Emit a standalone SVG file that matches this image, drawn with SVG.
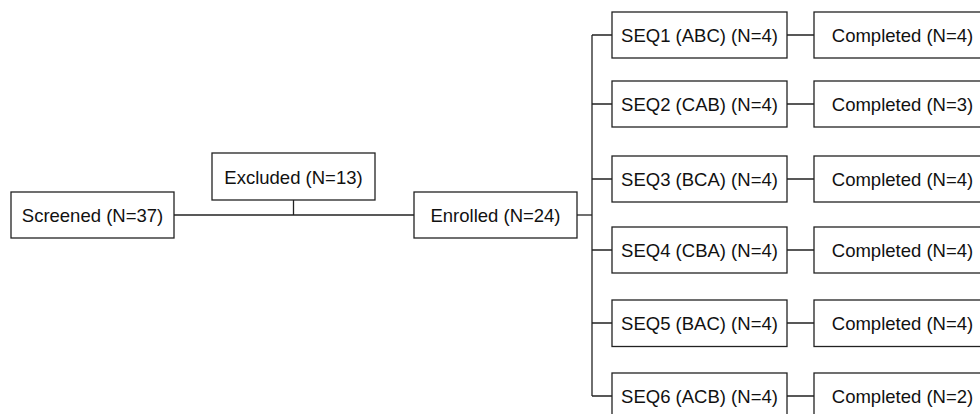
<svg xmlns="http://www.w3.org/2000/svg" width="980" height="414" viewBox="0 0 980 414">
  <style>
    .box { fill: #ffffff; stroke: #222222; stroke-width: 1.3; }
    .lbl { font-family: "Liberation Sans", Arial, sans-serif; font-size: 18.5px; fill: #111111; text-anchor: middle; }
    .edge { fill: none; stroke: #222222; stroke-width: 1.3; }
  </style>
  <rect width="980" height="414" fill="#ffffff"/>

  <!-- connectors -->
  <g id="connectors">
    <path class="edge" d="M174,215 H414"/>
    <path class="edge" d="M293.5,200 V215"/>
    <path class="edge" d="M577,215 H592"/>
    <path class="edge" d="M592,35 V396"/>
    <path class="edge" d="M592,35 H612 M592,104 H612 M592,179 H612 M592,250 H612 M592,323 H612 M592,396 H612"/>
    <path class="edge" d="M787,35 H814 M787,104 H814 M787,179 H814 M787,250 H814 M787,323 H814 M787,396 H814"/>
  </g>

  <g id="screened">
    <rect class="box" x="11" y="192" width="163" height="46"/>
    <text class="lbl" x="92.5" y="222">Screened (N=37)</text>
  </g>
  <g id="excluded">
    <rect class="box" x="212" y="153" width="163" height="47"/>
    <text class="lbl" x="293.5" y="183.5">Excluded (N=13)</text>
  </g>
  <g id="enrolled">
    <rect class="box" x="414" y="192" width="163" height="46"/>
    <text class="lbl" x="495.5" y="222">Enrolled (N=24)</text>
  </g>

  <g id="seq1">
    <rect class="box" x="612" y="12" width="175" height="46"/>
    <text class="lbl" x="699.5" y="42">SEQ1 (ABC) (N=4)</text>
  </g>
  <g id="seq2">
    <rect class="box" x="612" y="81" width="175" height="46"/>
    <text class="lbl" x="699.5" y="111">SEQ2 (CAB) (N=4)</text>
  </g>
  <g id="seq3">
    <rect class="box" x="612" y="156" width="175" height="46"/>
    <text class="lbl" x="699.5" y="186">SEQ3 (BCA) (N=4)</text>
  </g>
  <g id="seq4">
    <rect class="box" x="612" y="227" width="175" height="46"/>
    <text class="lbl" x="699.5" y="257">SEQ4 (CBA) (N=4)</text>
  </g>
  <g id="seq5">
    <rect class="box" x="612" y="300" width="175" height="46.5"/>
    <text class="lbl" x="699.5" y="330">SEQ5 (BAC) (N=4)</text>
  </g>
  <g id="seq6">
    <rect class="box" x="612" y="373" width="175" height="46"/>
    <text class="lbl" x="699.5" y="403">SEQ6 (ACB) (N=4)</text>
  </g>

  <g id="completed1">
    <rect class="box" x="814" y="12" width="177" height="46"/>
    <text class="lbl" x="902.5" y="42">Completed (N=4)</text>
  </g>
  <g id="completed2">
    <rect class="box" x="814" y="81" width="177" height="46"/>
    <text class="lbl" x="902.5" y="111">Completed (N=3)</text>
  </g>
  <g id="completed3">
    <rect class="box" x="814" y="156" width="177" height="46"/>
    <text class="lbl" x="902.5" y="186">Completed (N=4)</text>
  </g>
  <g id="completed4">
    <rect class="box" x="814" y="227" width="177" height="46"/>
    <text class="lbl" x="902.5" y="257">Completed (N=4)</text>
  </g>
  <g id="completed5">
    <rect class="box" x="814" y="300" width="177" height="46.5"/>
    <text class="lbl" x="902.5" y="330">Completed (N=4)</text>
  </g>
  <g id="completed6">
    <rect class="box" x="814" y="373" width="177" height="46"/>
    <text class="lbl" x="902.5" y="403">Completed (N=2)</text>
  </g>
</svg>
